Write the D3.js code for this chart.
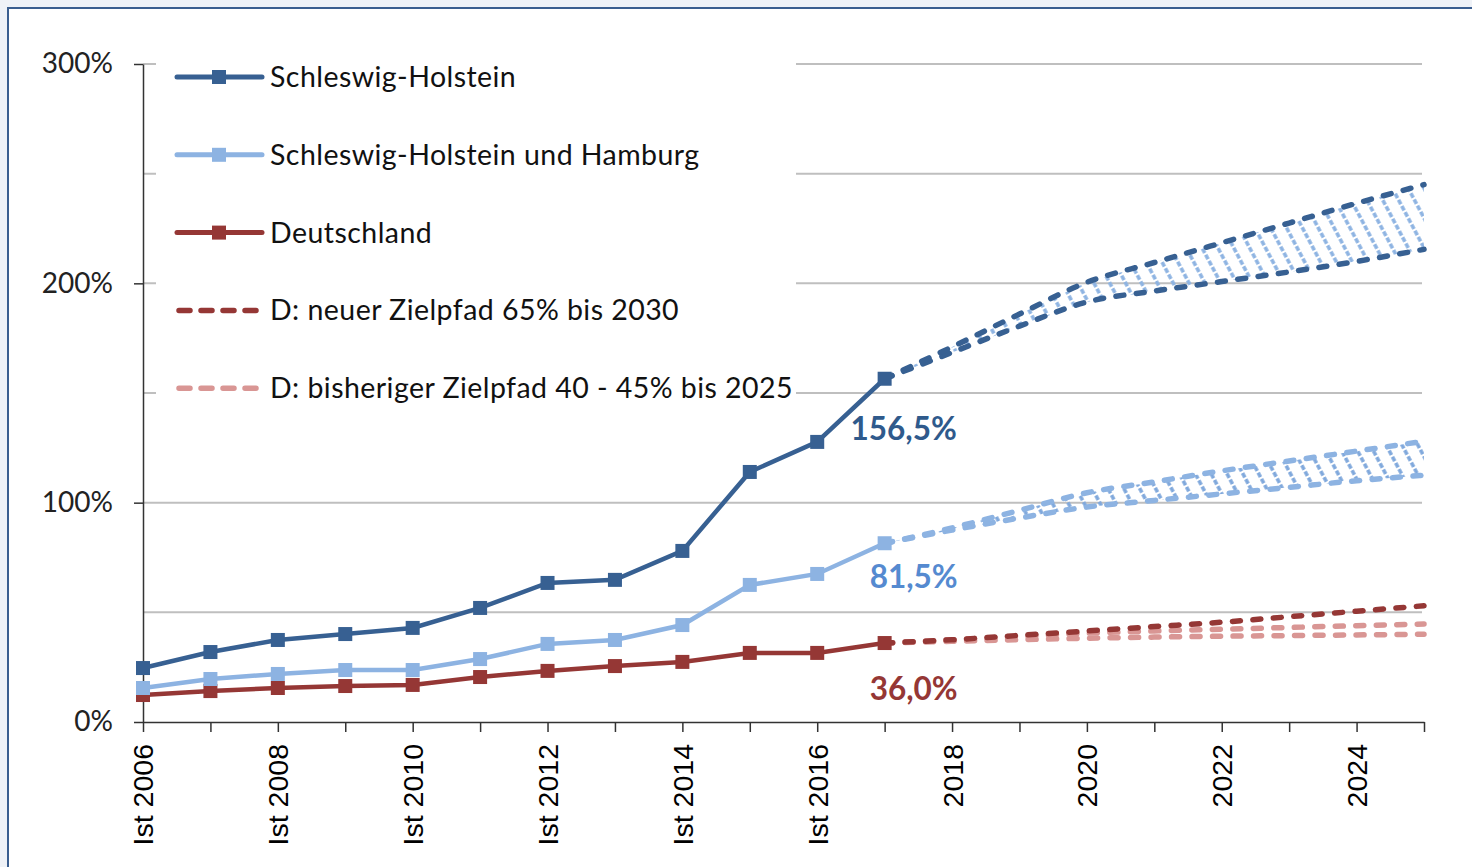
<!DOCTYPE html>
<html>
<head>
<meta charset="utf-8">
<script src="https://cdn.jsdelivr.net/npm/d3@7"></script>
<style>
  html, body { margin: 0; padding: 0; background: #eff2f7; }
  svg { display: block; }
</style>
</head>
<body>
<script>
// actual values (Ist), 2006 - 2017
const years = [2006, 2007, 2008, 2009, 2010, 2011, 2012, 2013, 2014, 2015, 2016, 2017];
const shValues = [24.6, 31.9, 37.4, 40.1, 42.9, 52.0, 63.4, 64.8, 78.0, 114.0, 127.7, 156.5];
const shhhValues = [15.5, 19.6, 21.9, 23.7, 23.7, 28.7, 35.6, 37.4, 44.2, 62.5, 67.5, 81.5];
const deValues = [12.3, 14.1, 15.5, 16.4, 16.9, 20.5, 23.3, 25.5, 27.4, 31.5, 31.5, 36.0];

// target paths, 2017 - 2025
const projYears = [2017, 2018, 2019, 2020, 2021, 2022, 2023, 2024, 2025];
const shUpper = [156.5, 171, 186, 200.5, 209.5, 218.5, 227.5, 236.5, 245];
const shLower = [156.5, 168.5, 180.5, 191.5, 196.5, 200.8, 205.2, 210, 215.5];
const shhhUpper = [81.5, 88.5, 96.5, 104.5, 109.5, 114.5, 119, 123.5, 128];
const shhhLower = [81.5, 87.5, 93, 98, 101, 104, 107, 110, 112.5];
const deNew = [36, 37.5, 39.5, 41.5, 43.5, 45.5, 48, 50.5, 53];
const deOld45 = [36, 37.5, 39, 40.5, 41.5, 42.3, 43.1, 43.9, 44.7];
const deOld40 = [36, 36.8, 37.5, 38.2, 38.7, 39.1, 39.4, 39.7, 40];

// axes
const xTicks = d3.range(2006, 2026);
const yTicks = [0, 100, 200, 300];
const gridValues = [50, 100, 150, 200, 250, 300];
const xLabel = d => d % 2 ? "" : (d <= 2016 ? "Ist " + d : String(d));

const legendItems = [
  { label: "Schleswig-Holstein", color: "#376092", dash: false },
  { label: "Schleswig-Holstein und Hamburg", color: "#8db3e2", dash: false },
  { label: "Deutschland", color: "#953735", dash: false },
  { label: "D: neuer Zielpfad 65% bis 2030", color: "#953735", dash: true },
  { label: "D: bisheriger Zielpfad 40 - 45% bis 2025", color: "#d99694", dash: true }
];

const width = 1472, height = 867;
const textFont = "Lato, 'Open Sans', sans-serif";

const x = d3.scaleLinear().domain([2006, 2025]).range([143, 1424]);
const y = d3.scaleLinear().domain([0, 300]).range([722, 64]);

const svg = d3.select("body").append("svg")
  .attr("width", width)
  .attr("height", height);

// chart frame
svg.append("rect")
  .attr("x", 8).attr("y", 8)
  .attr("width", width + 10).attr("height", height + 10)
  .attr("fill", "#fff")
  .attr("stroke", "#3b5e8f")
  .attr("stroke-width", 2);

// hatch patterns for the corridors
const defs = svg.append("defs");
function hatch(id, color) {
  const p = defs.append("pattern")
    .attr("id", id)
    .attr("patternUnits", "userSpaceOnUse")
    .attr("width", 14).attr("height", 14)
    .attr("patternTransform", "rotate(-28)");
  p.append("line")
    .attr("x1", 7).attr("x2", 7)
    .attr("y1", 0).attr("y2", 14)
    .attr("stroke", color)
    .attr("stroke-width", 3.5)
    .attr("stroke-dasharray", "5,2");
}
hatch("hatchDark", "#8db3e2");
hatch("hatchLight", "#7fa8dc");

// gridlines
svg.append("g")
  .selectAll("line")
  .data(gridValues)
  .join("line")
    .attr("x1", x(2006))
    .attr("x2", x(2025) - 2)
    .attr("y1", d => y(d))
    .attr("y2", d => y(d))
    .attr("stroke", "#bfbfbf")
    .attr("stroke-width", 2);

// legend background hides the grid behind it
svg.append("rect")
  .attr("x", 156).attr("y", 40)
  .attr("width", 640).attr("height", 368)
  .attr("fill", "#fff");

// axes
const xAxis = svg.append("g")
  .attr("transform", `translate(0,${y(0)})`)
  .call(d3.axisBottom(x).tickValues(xTicks).tickFormat(xLabel).tickSize(10).tickSizeOuter(0));
xAxis.select(".domain").attr("stroke", "#333").attr("stroke-width", 1.5);
xAxis.selectAll(".tick line").attr("stroke", "#333").attr("stroke-width", 1.5);
xAxis.selectAll("text")
  .attr("transform", "rotate(-90)")
  .attr("text-anchor", "end")
  .attr("x", -22)
  .attr("y", 0)
  .attr("dy", "0.35em")
  .attr("font-family", "'Liberation Sans', Arial, sans-serif")
  .attr("font-size", 28.5)
  .attr("fill", "#000");

const yAxis = svg.append("g")
  .attr("transform", `translate(${x(2006)},0)`)
  .call(d3.axisLeft(y).tickValues(yTicks).tickFormat(d => d + "%").tickSize(9).tickSizeOuter(0));
yAxis.select(".domain").attr("stroke", "#333").attr("stroke-width", 1.5);
yAxis.selectAll(".tick line").attr("stroke", "#333").attr("stroke-width", 1.5);
yAxis.selectAll("text")
  .attr("x", -30)
  .attr("font-family", textFont)
  .attr("font-size", 28)
  .attr("fill", "#222");

// corridors
const band = d3.area()
  .x((d, i) => x(projYears[i]))
  .y0(d => y(d[0]))
  .y1(d => y(d[1]));
svg.append("path")
  .attr("d", band(d3.zip(shLower, shUpper)))
  .attr("fill", "url(#hatchDark)");
svg.append("path")
  .attr("d", band(d3.zip(shhhLower, shhhUpper)))
  .attr("fill", "url(#hatchLight)");

// dashed target paths
const projLine = d3.line()
  .x((d, i) => x(projYears[i]))
  .y(d => y(d))
  .curve(d3.curveMonotoneX);
const projections = [
  { values: deOld40, color: "#d99694" },
  { values: deOld45, color: "#d99694" },
  { values: deNew, color: "#953735" },
  { values: shhhLower, color: "#8db3e2" },
  { values: shhhUpper, color: "#8db3e2" },
  { values: shLower, color: "#376092" },
  { values: shUpper, color: "#376092" }
];
svg.append("g")
  .selectAll("path")
  .data(projections)
  .join("path")
    .attr("d", d => projLine(d.values))
    .attr("fill", "none")
    .attr("stroke", d => d.color)
    .attr("stroke-width", 5.5)
    .attr("stroke-linecap", "round")
    .attr("stroke-dasharray", "8,12.5");

// actual series with square markers
const series = [
  { values: deValues, color: "#953735" },
  { values: shhhValues, color: "#8db3e2" },
  { values: shValues, color: "#376092" }
];
const line = d3.line()
  .x((d, i) => x(years[i]))
  .y(d => y(d));
series.forEach(s => {
  svg.append("path")
    .attr("d", line(s.values))
    .attr("fill", "none")
    .attr("stroke", s.color)
    .attr("stroke-width", 4.5);
  svg.append("g")
    .selectAll("rect")
    .data(s.values)
    .join("rect")
      .attr("x", (d, i) => x(years[i]) - 7)
      .attr("y", d => y(d) - 7)
      .attr("width", 14)
      .attr("height", 14)
      .attr("fill", s.color);
});

// data labels for 2017
const labels = [
  { value: shValues[11], text: "156,5%", color: "#2f5a8c", dx: 19, dy: 50 },
  { value: shhhValues[11], text: "81,5%", color: "#558ad0", dx: 29, dy: 34 },
  { value: deValues[11], text: "36,0%", color: "#953735", dx: 29, dy: 46 }
];
svg.append("g")
  .selectAll("text")
  .data(labels)
  .join("text")
    .attr("x", d => x(2017) + d.dx)
    .attr("y", d => y(d.value) + d.dy)
    .attr("dy", "0.35em")
    .attr("text-anchor", "middle")
    .attr("font-family", textFont)
    .attr("font-weight", "bold")
    .attr("font-size", 31.5)
    .attr("fill", d => d.color)
    .text(d => d.text);

// legend
const legend = svg.append("g")
  .selectAll("g")
  .data(legendItems)
  .join("g")
    .attr("transform", (d, i) => `translate(177,${77 + i * 77.8})`);
legend.append("line")
  .attr("x1", d => d.dash ? 2 : 0)
  .attr("x2", 85)
  .attr("stroke", d => d.color)
  .attr("stroke-width", d => d.dash ? 5.5 : 5)
  .attr("stroke-linecap", "round")
  .attr("stroke-dasharray", d => d.dash ? "11,11" : null);
legend.filter(d => !d.dash)
  .append("rect")
    .attr("x", 35).attr("y", -7)
    .attr("width", 14).attr("height", 14)
    .attr("fill", d => d.color);
legend.append("text")
  .attr("x", 93)
  .attr("dy", "0.35em")
  .attr("font-family", textFont)
  .attr("font-size", 28.5)
  .attr("letter-spacing", 0.45)
  .attr("fill", "#111")
  .text(d => d.label);
</script>
</body>
</html>
